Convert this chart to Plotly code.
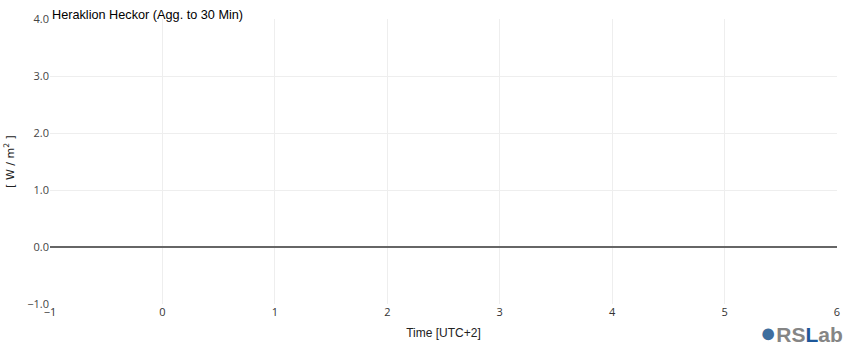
import plotly.graph_objects as go

# Data (chart shows no measurements)
times = []
values = []
x_range = [-1, 6]
y_range = [-1, 4]
y_ticks = [-1.0, 0.0, 1.0, 2.0, 3.0, 4.0]
title_text = "Heraklion Heckor (Agg. to 30 Min)"
x_title = "Time [UTC+2]"
y_title = "[ W / m<sup>2</sup> ]"

fig = go.Figure()
fig.add_trace(go.Scatter(x=times, y=values, mode="lines", showlegend=False))

fig.update_layout(
    width=850, height=350,
    margin=dict(l=49, r=10, t=19, b=46),
    paper_bgcolor="white", plot_bgcolor="white",
    font=dict(family="Open Sans, Verdana, sans-serif", size=12, color="#444"),
    title=dict(text=title_text, x=52/850, xanchor="left", y=1-15/350, yanchor="middle",
               xref="container", yref="container",
               font=dict(family="Liberation Sans, Arial, sans-serif", size=12.7, color="#000")),
    showlegend=False,
)
fig.update_xaxes(range=x_range, dtick=1, tick0=0, showgrid=True, gridcolor="#eeeeee",
                 zeroline=False, showline=False, ticks="",
                 title=dict(text=x_title, standoff=10,
                            font=dict(family="Liberation Sans, Arial, sans-serif", size=12, color="#222")),
                 tickfont=dict(size=11, color="#333"))
fig.update_yaxes(range=y_range, tickvals=y_ticks, tickformat=".1f", showgrid=True, gridcolor="#eeeeee",
                 zeroline=True, zerolinecolor="#666", zerolinewidth=2, showline=False, ticks="",
                 title=dict(text=y_title, standoff=10,
                            font=dict(family="DejaVu Sans, Verdana, sans-serif", size=11, color="#222")),
                 tickfont=dict(size=11, color="#444"))

# RSLab logo as text
fig.add_annotation(xref="paper", yref="paper", x=1, y=0, xanchor="right", yanchor="top",
                   yshift=-12, xshift=8, showarrow=False,
                   text="<b><span style='color:#3f6e9e;font-size:27px'>●</span><span style='color:#858585'>RS</span><span style='color:#1d5799'>L</span><span style='color:#858585'>ab</span></b>",
                   font=dict(family="Liberation Sans, Arial, sans-serif", size=21))

fig.write_html("out.html")
